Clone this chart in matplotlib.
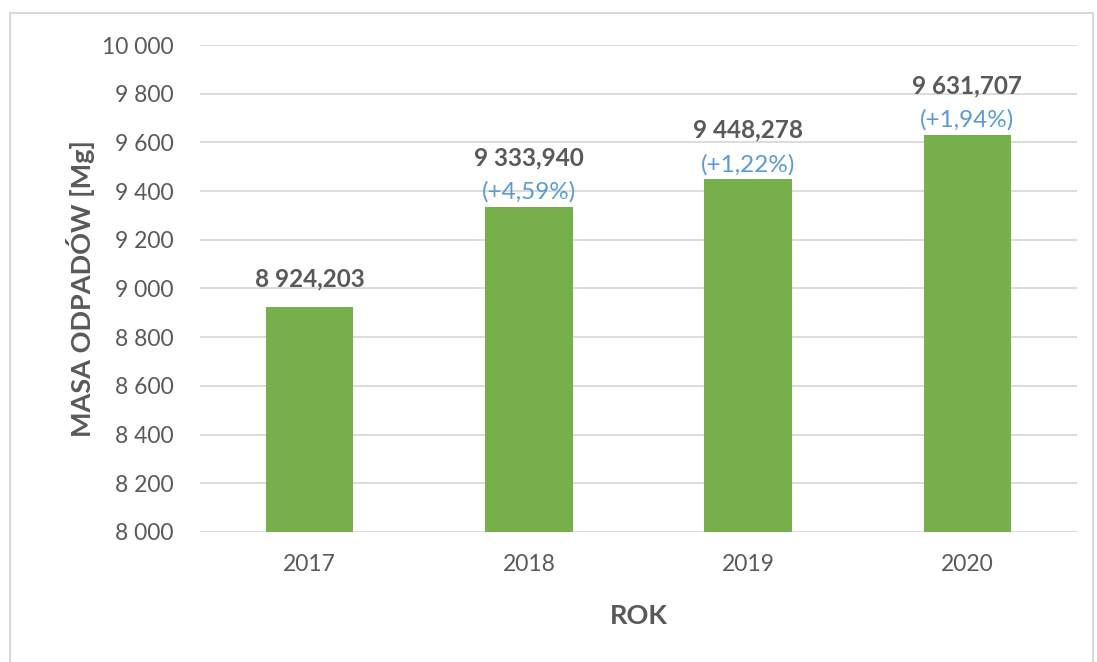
import numpy as np
import matplotlib.pyplot as plt
from matplotlib.patches import Rectangle
from matplotlib.ticker import FuncFormatter

years = ['2017', '2018', '2019', '2020']
masses = [8924.203, 9333.940, 9448.278, 9631.707]
changes = [None, '(+4,59%)', '(+1,22%)', '(+1,94%)']

plt.rcParams['font.family'] = ['Lato', 'DejaVu Sans']
text_gray = '#595959'
green = '#77AF4A'
blue = '#5B9BD5'

fig = plt.figure(figsize=(10.97, 6.62), dpi=100)
fig.patches.append(Rectangle((10 / 1097, -0.01), 1083 / 1097, (662 - 13) / 662 + 0.01,
                             transform=fig.transFigure, fill=False,
                             edgecolor='#D9D9D9', linewidth=1.5))
ax = fig.add_axes([0.1823, 0.1964, 0.7995, 0.7356])

ind = np.arange(len(years))
ax.bar(ind, masses, 0.4, color=green, bottom=0, zorder=3)
ax.set_ylim(8000, 10000)
ax.set_xlim(-0.5, 3.5)
ax.set_yticks(np.arange(8000, 10001, 200))
ax.yaxis.set_major_formatter(FuncFormatter(lambda v, p: f'{int(v):,}'.replace(',', ' ')))
ax.set_xticks(ind)
ax.set_xticklabels(years)
ax.grid(axis='y', color='#D9D9D9', linewidth=1.3, zorder=0)
for s in ax.spines.values():
    s.set_visible(False)
ax.tick_params(length=0, labelsize=16.5, colors=text_gray)
ax.tick_params(axis='y', pad=19)
ax.tick_params(axis='x', pad=16)

for i, (m, c) in enumerate(zip(masses, changes)):
    lab = f'{m:,.3f}'.replace(',', ' ').replace('.', ',')
    if c is None:
        ax.annotate(lab, (i, m), xytext=(0, 12), textcoords='offset points',
                    ha='center', va='bottom', fontsize=17.5, fontweight='bold', color=text_gray)
    else:
        ax.annotate(c, (i, m), xytext=(0, 3), textcoords='offset points',
                    ha='center', va='bottom', fontsize=17.5, color=blue)
        ax.annotate(lab, (i, m), xytext=(0, 27), textcoords='offset points',
                    ha='center', va='bottom', fontsize=17.5, fontweight='bold', color=text_gray)

ax.set_xlabel('ROK', fontsize=19.5, fontweight='bold', color=text_gray, labelpad=21)
ax.set_ylabel('MASA ODPADÓW [Mg]', fontsize=19.5, fontweight='bold', color=text_gray, labelpad=5)

fig.savefig('out.png', dpi=100)
